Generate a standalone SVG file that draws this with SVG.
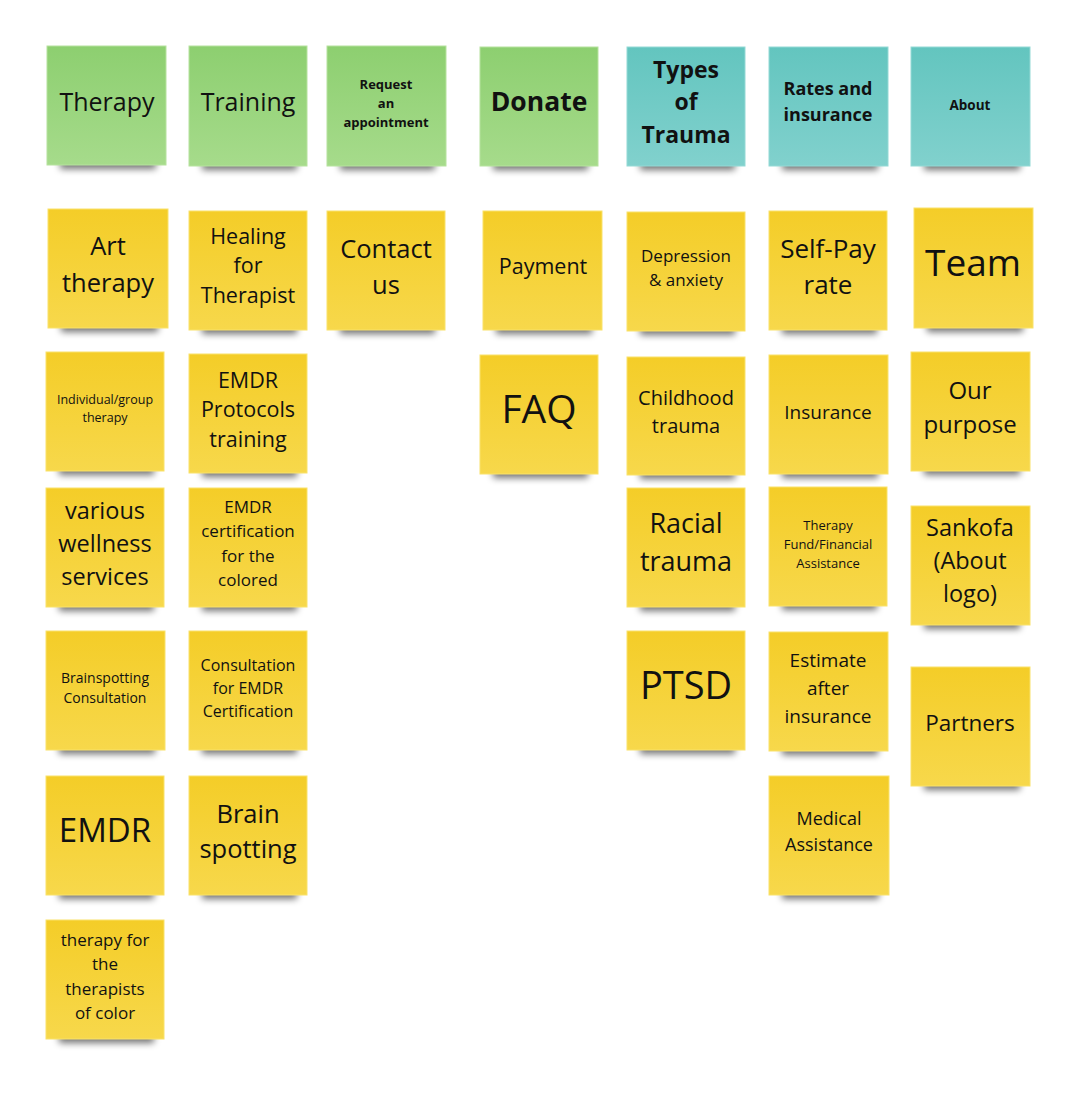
<svg xmlns="http://www.w3.org/2000/svg" width="1078" height="1100" viewBox="0 0 1078 1100">
<defs>
<linearGradient id="gG" x1="0" y1="0" x2="0" y2="1"><stop offset="0" stop-color="#8dcf70"/><stop offset="1" stop-color="#a6db8b"/></linearGradient>
<linearGradient id="gT" x1="0" y1="0" x2="0" y2="1"><stop offset="0" stop-color="#63c5bf"/><stop offset="1" stop-color="#81d1cd"/></linearGradient>
<linearGradient id="gY" x1="0" y1="0" x2="0" y2="1"><stop offset="0" stop-color="#f4cd28"/><stop offset="1" stop-color="#f7d84b"/></linearGradient>
<filter id="blur" x="-20%" y="-200%" width="140%" height="500%"><feGaussianBlur stdDeviation="3.5"/></filter>
</defs>
<style>
.sh{fill:#000;opacity:.55;filter:url(#blur)}
.g{fill:url(#gG);stroke:#b6e29e;stroke-width:1}
.t{fill:url(#gT);stroke:#94d9d5;stroke-width:1}
.y{fill:url(#gY);stroke:#f9e26a;stroke-width:1}
text{font-family:"Open Sans","Noto Sans","Liberation Sans",sans-serif;fill:#111;text-anchor:middle}
.b{font-weight:bold}
</style>
<rect width="1078" height="1100" fill="#fff"/>
<g id="connectors"/>

<g id="n-therapy"><rect class="sh" x="60" y="157" width="96" height="12"/><rect class="g" x="47" y="46" width="119" height="119"/><text x="107" y="111" font-size="25">Therapy</text></g>
<g id="n-training"><rect class="sh" x="202" y="158" width="95" height="12"/><rect class="g" x="189" y="46" width="118" height="120"/><text x="248" y="111" font-size="25">Training</text></g>
<g id="n-request"><rect class="sh" x="340" y="158" width="95" height="12"/><rect class="g" x="327" y="46" width="119" height="120"/><text class="b" x="386" y="89" font-size="13">Request</text><text class="b" x="386" y="108" font-size="13">an</text><text class="b" x="386" y="127" font-size="13">appointment</text></g>
<g id="n-donate"><rect class="sh" x="493" y="158" width="95" height="12"/><rect class="g" x="480" y="47" width="118" height="119"/><text class="b" x="539" y="111" font-size="26.5">Donate</text></g>
<g id="n-types"><rect class="sh" x="640" y="158" width="95" height="12"/><rect class="t" x="627" y="47" width="118" height="119"/><text class="b" x="686" y="78" font-size="23">Types</text><text class="b" x="686" y="110" font-size="23">of</text><text class="b" x="686" y="143" font-size="23">Trauma</text></g>
<g id="n-rates"><rect class="sh" x="782" y="158" width="96" height="12"/><rect class="t" x="769" y="47" width="119" height="119"/><text class="b" x="828" y="95" font-size="18">Rates and</text><text class="b" x="828" y="121" font-size="18">insurance</text></g>
<g id="n-about"><rect class="sh" x="924" y="158" width="96" height="12"/><rect class="t" x="911" y="47" width="119" height="119"/><text class="b" x="970" y="110" font-size="13.5">About</text></g>

<g id="n-art"><rect class="sh" x="61" y="320" width="97" height="12"/><rect class="y" x="48" y="209" width="120" height="119"/><text x="108" y="255" font-size="25.5">Art</text><text x="108" y="292" font-size="25.5">therapy</text></g>
<g id="n-healing"><rect class="sh" x="202" y="322" width="95" height="12"/><rect class="y" x="189" y="211" width="118" height="119"/><text x="248" y="244" font-size="21.5">Healing</text><text x="248" y="273" font-size="21.5">for</text><text x="248" y="303" font-size="21.5">Therapist</text></g>
<g id="n-contact"><rect class="sh" x="340" y="322" width="95" height="12"/><rect class="y" x="327" y="211" width="118" height="119"/><text x="386" y="258" font-size="25.5">Contact</text><text x="386" y="294" font-size="25.5">us</text></g>
<g id="n-payment"><rect class="sh" x="496" y="322" width="96" height="12"/><rect class="y" x="483" y="211" width="119" height="119"/><text x="543" y="274" font-size="21.5">Payment</text></g>
<g id="n-depression"><rect class="sh" x="640" y="323" width="95" height="12"/><rect class="y" x="627" y="212" width="118" height="119"/><text x="686" y="262" font-size="17">Depression</text><text x="686" y="286" font-size="17">&amp; anxiety</text></g>
<g id="n-selfpay"><rect class="sh" x="782" y="322" width="95" height="12"/><rect class="y" x="769" y="211" width="118" height="119"/><text x="828" y="258" font-size="26">Self-Pay</text><text x="828" y="294" font-size="26">rate</text></g>
<g id="n-team"><rect class="sh" x="927" y="320" width="96" height="12"/><rect class="y" x="914" y="208" width="119" height="120"/><text x="973" y="276" font-size="37">Team</text></g>

<g id="n-individual"><rect class="sh" x="59" y="463" width="95" height="12"/><rect class="y" x="46" y="352" width="118" height="119"/><text x="105" y="404" font-size="12.5">Individual/group</text><text x="105" y="422" font-size="12.5">therapy</text></g>
<g id="n-protocols"><rect class="sh" x="202" y="465" width="95" height="12"/><rect class="y" x="189" y="354" width="118" height="119"/><text x="248" y="388" font-size="21.5">EMDR</text><text x="248" y="417" font-size="21.5">Protocols</text><text x="248" y="447" font-size="21.5">training</text></g>
<g id="n-faq"><rect class="sh" x="493" y="466" width="95" height="12"/><rect class="y" x="480" y="355" width="118" height="119"/><text x="539" y="423" font-size="39">FAQ</text></g>
<g id="n-childhood"><rect class="sh" x="640" y="467" width="95" height="12"/><rect class="y" x="627" y="357" width="118" height="118"/><text x="686" y="405" font-size="20">Childhood</text><text x="686" y="433" font-size="20">trauma</text></g>
<g id="n-insurance"><rect class="sh" x="782" y="466" width="96" height="12"/><rect class="y" x="769" y="355" width="119" height="119"/><text x="828" y="419" font-size="19">Insurance</text></g>
<g id="n-purpose"><rect class="sh" x="924" y="463" width="96" height="12"/><rect class="y" x="911" y="352" width="119" height="119"/><text x="970" y="399" font-size="24">Our</text><text x="970" y="433" font-size="24">purpose</text></g>

<g id="n-wellness"><rect class="sh" x="59" y="599" width="95" height="12"/><rect class="y" x="46" y="488" width="118" height="119"/><text x="105" y="519" font-size="23.5">various</text><text x="105" y="552" font-size="23.5">wellness</text><text x="105" y="585" font-size="23.5">services</text></g>
<g id="n-certification"><rect class="sh" x="202" y="599" width="95" height="12"/><rect class="y" x="189" y="488" width="118" height="119"/><text x="248" y="513" font-size="17">EMDR</text><text x="248" y="537" font-size="17">certification</text><text x="248" y="562" font-size="17">for the</text><text x="248" y="586" font-size="17">colored</text></g>
<g id="n-racial"><rect class="sh" x="640" y="599" width="95" height="12"/><rect class="y" x="627" y="488" width="118" height="119"/><text x="686" y="533" font-size="27">Racial</text><text x="686" y="571" font-size="27">trauma</text></g>
<g id="n-fund"><rect class="sh" x="782" y="598" width="95" height="12"/><rect class="y" x="769" y="487" width="118" height="119"/><text x="828" y="530" font-size="13">Therapy</text><text x="828" y="549" font-size="13">Fund/Financial</text><text x="828" y="568" font-size="13">Assistance</text></g>
<g id="n-sankofa"><rect class="sh" x="924" y="617" width="96" height="12"/><rect class="y" x="911" y="506" width="119" height="119"/><text x="970" y="536" font-size="23.5">Sankofa</text><text x="970" y="569" font-size="23.5">(About</text><text x="970" y="602" font-size="23.5">logo)</text></g>

<g id="n-brainconsult"><rect class="sh" x="59" y="742" width="96" height="12"/><rect class="y" x="46" y="631" width="119" height="119"/><text x="105" y="683" font-size="14">Brainspotting</text><text x="105" y="703" font-size="14">Consultation</text></g>
<g id="n-emdrconsult"><rect class="sh" x="202" y="742" width="95" height="12"/><rect class="y" x="189" y="631" width="118" height="119"/><text x="248" y="671" font-size="16">Consultation</text><text x="248" y="694" font-size="16">for EMDR</text><text x="248" y="717" font-size="16">Certification</text></g>
<g id="n-ptsd"><rect class="sh" x="640" y="742" width="95" height="12"/><rect class="y" x="627" y="631" width="118" height="119"/><text x="686" y="699" font-size="38">PTSD</text></g>
<g id="n-estimate"><rect class="sh" x="782" y="743" width="96" height="12"/><rect class="y" x="769" y="632" width="119" height="119"/><text x="828" y="667" font-size="19">Estimate</text><text x="828" y="695" font-size="19">after</text><text x="828" y="723" font-size="19">insurance</text></g>
<g id="n-partners"><rect class="sh" x="924" y="778" width="96" height="12"/><rect class="y" x="911" y="667" width="119" height="119"/><text x="970" y="731" font-size="22.5">Partners</text></g>

<g id="n-emdr"><rect class="sh" x="59" y="887" width="95" height="12"/><rect class="y" x="46" y="776" width="118" height="119"/><text x="105" y="842" font-size="33">EMDR</text></g>
<g id="n-brainspotting"><rect class="sh" x="202" y="887" width="95" height="12"/><rect class="y" x="189" y="776" width="118" height="119"/><text x="248" y="823" font-size="25.5">Brain</text><text x="248" y="858" font-size="25.5">spotting</text></g>
<g id="n-medical"><rect class="sh" x="782" y="887" width="97" height="12"/><rect class="y" x="769" y="776" width="120" height="119"/><text x="829" y="825" font-size="18">Medical</text><text x="829" y="851" font-size="18">Assistance</text></g>

<g id="n-therapists"><rect class="sh" x="59" y="1031" width="95" height="12"/><rect class="y" x="46" y="920" width="118" height="119"/><text x="105" y="946" font-size="17">therapy for</text><text x="105" y="970" font-size="17">the</text><text x="105" y="995" font-size="17">therapists</text><text x="105" y="1019" font-size="17">of color</text></g>
</svg>
